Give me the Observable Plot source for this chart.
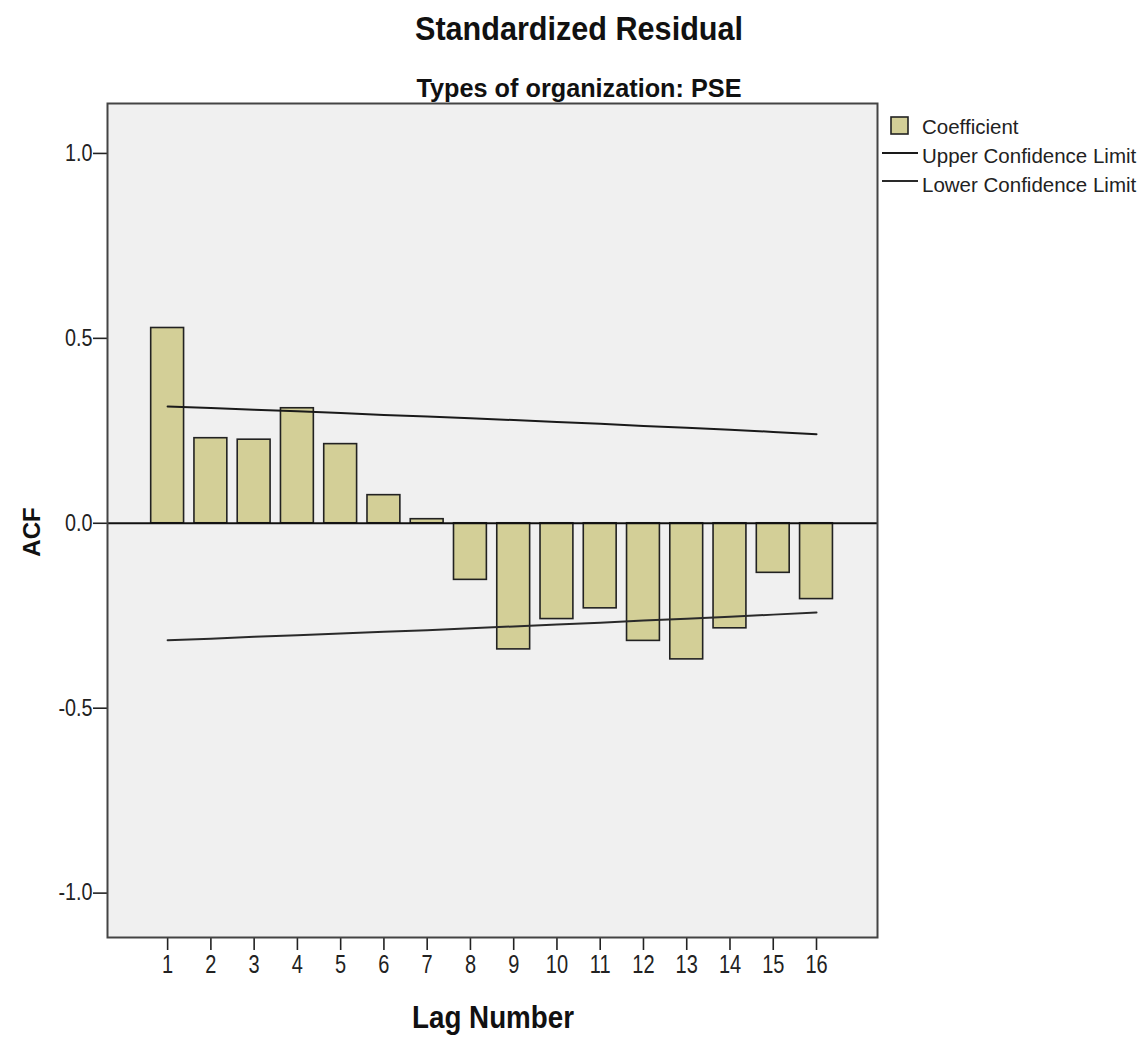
<!DOCTYPE html>
<html>
<head>
<meta charset="utf-8">
<script src="https://cdn.jsdelivr.net/npm/d3@7"></script>
<script src="https://cdn.jsdelivr.net/npm/@observablehq/plot@0.6"></script>
<style>
  html, body { margin: 0; padding: 0; background: #fff; }
  #chart svg { display: block; }
</style>
</head>
<body>
<div id="chart"></div>
<script>
const title = "Standardized Residual";
const subtitle = "Types of organization: PSE";
const xLabel = "Lag Number";
const yLabel = "ACF";
const lags = [1, 2, 3, 4, 5, 6, 7, 8, 9, 10, 11, 12, 13, 14, 15, 16];
const coefficient = [0.528, 0.230, 0.226, 0.311, 0.214, 0.076, 0.011, -0.153, -0.341, -0.259, -0.230, -0.318, -0.368, -0.284, -0.134, -0.205];
const upperLimit = [0.316, 0.312, 0.307, 0.303, 0.298, 0.293, 0.289, 0.284, 0.279, 0.274, 0.269, 0.263, 0.258, 0.253, 0.247, 0.241];
const lowerLimit = [-0.316, -0.312, -0.307, -0.303, -0.298, -0.293, -0.289, -0.284, -0.279, -0.274, -0.269, -0.263, -0.258, -0.253, -0.247, -0.241];
const yTicks = [-1.0, -0.5, 0.0, 0.5, 1.0];
const legendItems = ["Coefficient", "Upper Confidence Limit", "Lower Confidence Limit"];

const data = lags.map((lag, i) => ({lag, acf: coefficient[i], upper: upperLimit[i], lower: lowerLimit[i]}));

const W = 1146, H = 1038;
const mL = 107, mR = 269, mT = 103, mB = 101;
const halfBar = 0.38;

const font = "'Liberation Sans', Arial, sans-serif";

const svg = Plot.plot({
  width: W,
  height: H,
  marginLeft: mL,
  marginRight: mR,
  marginTop: mT,
  marginBottom: mB,
  style: {background: "#fff", fontFamily: font},
  x: {domain: [-0.39, 17.41]},
  y: {domain: [-1.12, 1.135]},
  marks: [
    Plot.frame({fill: "#f0f0f0", stroke: null}),
    Plot.rect(data, {
      x1: d => d.lag - halfBar,
      x2: d => d.lag + halfBar,
      y1: 0,
      y2: "acf",
      fill: "#d3cf97",
      stroke: "#222",
      strokeWidth: 1.6
    }),
    Plot.ruleY([0], {stroke: "#111", strokeWidth: 2}),
    Plot.line(data, {x: "lag", y: "upper", stroke: "#1a1a1a", strokeWidth: 2}),
    Plot.line(data, {x: "lag", y: "lower", stroke: "#2a2a2a", strokeWidth: 2}),
    Plot.axisY({
      ticks: yTicks,
      tickFormat: d => d.toFixed(1),
      tickSize: 14,
      tickPadding: 1,
      label: null,
      fontSize: 23,
      stroke: "#222",
      strokeWidth: 1.6,
      fill: "#222"
    }),
    Plot.axisX({
      ticks: lags,
      tickFormat: d => String(d),
      tickSize: 13,
      tickPadding: 5,
      label: null,
      fontSize: 25,
      stroke: "#222",
      strokeWidth: 1.6,
      fill: "#222"
    }),
    Plot.frame({stroke: "#444", strokeWidth: 2})
  ]
});

const s = d3.select(svg);

// condensed tick labels (reference uses a narrow face)
function condense(sel, k) {
  s.selectAll(sel).each(function() {
    const t = d3.select(this);
    const tr = t.attr("transform") || "";
    t.attr("transform", tr + ` scale(${k},1)`);
  });
}
condense("g[aria-label='x-axis tick label'] text", 0.8);
condense("g[aria-label='y-axis tick label'] text", 0.86);

function narrowText(x, y, size, txt, len) {
  return s.append("text")
    .attr("x", x).attr("y", y)
    .attr("text-anchor", "middle")
    .attr("font-family", font)
    .attr("font-weight", "bold")
    .attr("font-size", size)
    .attr("fill", "#111")
    .attr("textLength", len)
    .attr("lengthAdjust", "spacingAndGlyphs")
    .text(txt);
}

narrowText(579, 40, 34, title, 328);
narrowText(579, 97, 26, subtitle, 325);
narrowText(493, 1028, 31, xLabel, 162);

s.append("text")
  .attr("transform", "translate(40,532) rotate(-90)")
  .attr("text-anchor", "middle")
  .attr("font-family", font)
  .attr("font-weight", "bold")
  .attr("font-size", 24)
  .attr("fill", "#111")
  .text(yLabel);

// legend
const lg = s.append("g")
  .attr("font-family", font)
  .attr("font-size", 20.5)
  .attr("fill", "#222")
  .attr("text-anchor", "start");
lg.append("rect").attr("x", 891).attr("y", 117).attr("width", 17).attr("height", 17)
  .attr("fill", "#d3cf97").attr("stroke", "#222").attr("stroke-width", 1.6);
lg.append("text").attr("x", 922).attr("y", 127).attr("dy", "0.35em").text(legendItems[0]);
lg.append("line").attr("x1", 882).attr("x2", 918).attr("y1", 153).attr("y2", 153)
  .attr("stroke", "#1a1a1a").attr("stroke-width", 2);
lg.append("text").attr("x", 922).attr("y", 156).attr("dy", "0.35em").text(legendItems[1]);
lg.append("line").attr("x1", 882).attr("x2", 918).attr("y1", 181).attr("y2", 181)
  .attr("stroke", "#2a2a2a").attr("stroke-width", 2);
lg.append("text").attr("x", 922).attr("y", 185).attr("dy", "0.35em").text(legendItems[2]);

document.getElementById("chart").appendChild(svg);
</script>
</body>
</html>
